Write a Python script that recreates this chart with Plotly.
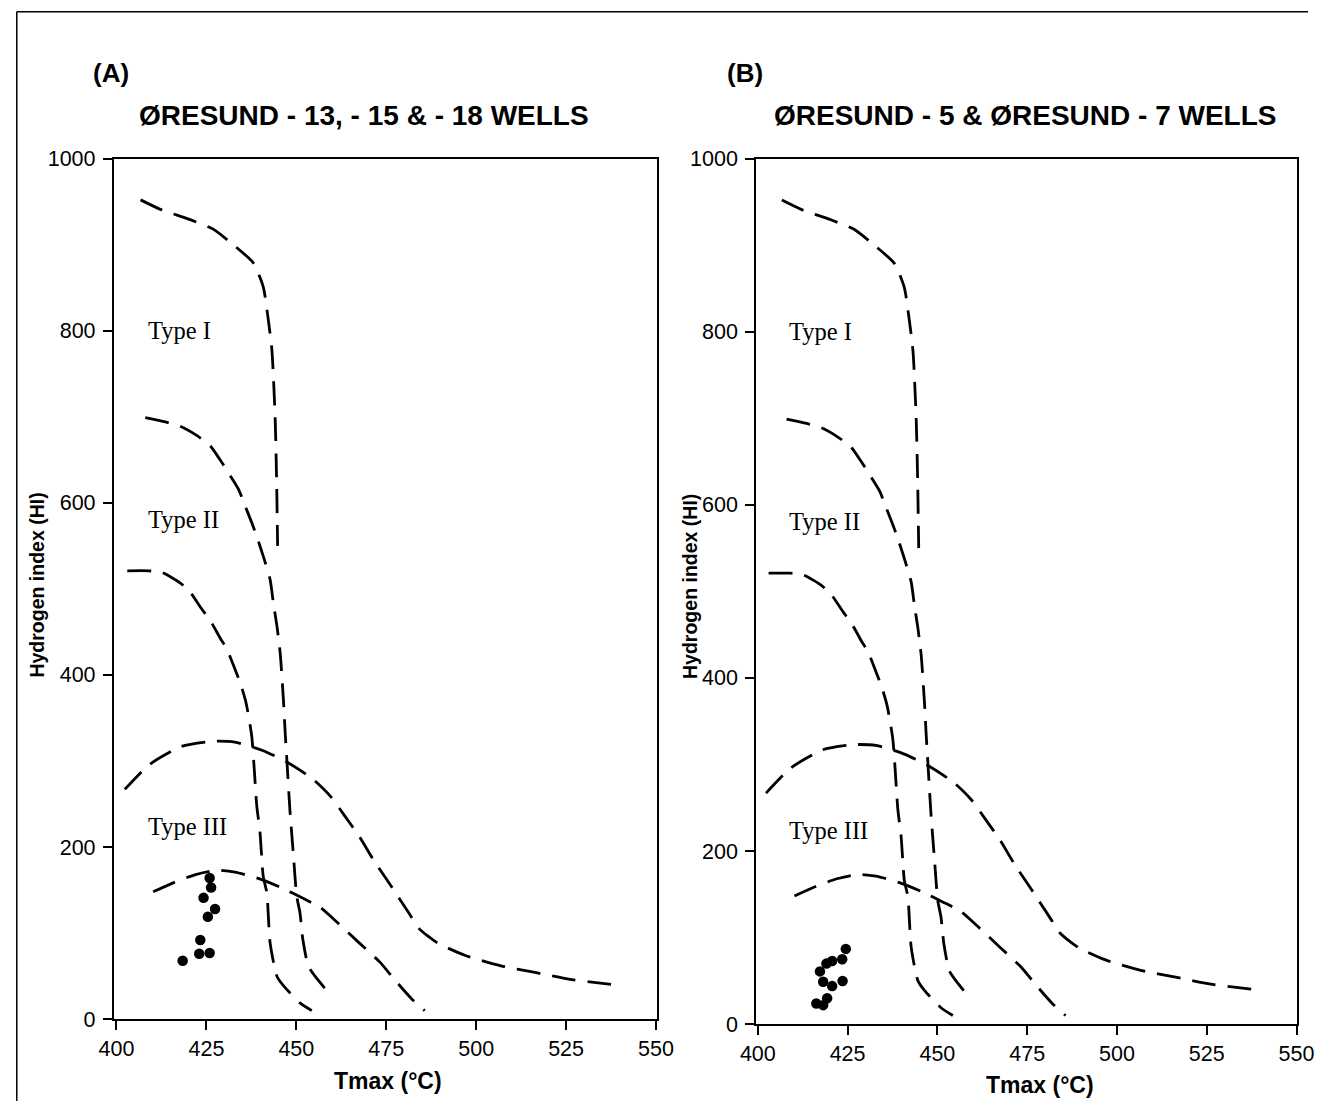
import plotly.graph_objects as go

# ---------------- data ----------------
tmax_ticks = [400, 425, 450, 475, 500, 525, 550]
hi_ticks = [0, 200, 400, 600, 800, 1000]

# Kerogen-type boundary curves (same template in both panels)
c1_t = [406.7, 412.2, 420.5, 426.9, 432.4, 438.0, 440.8, 442.1, 443.2, 444.1, 444.5, 444.8]
c1_hi = [952, 941, 929, 918, 900, 879, 851, 816, 778, 700, 630, 550]

c2_t = [408.0, 413.6, 417.7, 422.4, 426.1, 428.8, 431.1, 433.9, 435.8, 437.6, 439.0, 440.8,
        442.7, 443.6, 444.6, 445.5, 446.4, 446.9, 447.3, 448.2, 449.2, 450.1, 451.0, 451.8,
        453.3, 455.2, 459.3]
c2_hi = [699, 694, 689, 678, 666, 650, 635, 616, 596, 577, 561, 538,
         511, 484, 457, 426, 372, 333, 306, 244, 190, 143, 124, 93,
         62, 50, 29]

c3_t = [403.0, 409.0, 412.7, 417.7, 420.5, 423.8, 426.1, 428.8, 430.7, 433.0, 434.4, 436.0,
        437.6, 439.0, 439.9, 440.8, 441.8, 442.7, 444.6, 446.4, 451.0, 454.3]
c3_hi = [521, 521, 519, 507, 496, 476, 463, 443, 430, 406, 391, 368,
         329, 248, 217, 166, 147, 89, 50, 39, 19, 10]

c4_t = [402.3, 409.2, 418.1, 426.9, 432.9, 440.8, 447.7, 454.6, 459.5, 463.5, 467.4, 471.3,
        476.3, 481.2, 484.2, 489.1, 497.0, 506.9, 516.7, 526.6, 540.4]
c4_hi = [267, 296, 317, 323, 322, 312, 298, 279, 259, 236, 213, 186,
         155, 124, 105, 89, 74, 62, 54, 46, 39]

c5_t = [410.2, 416.1, 422.0, 427.9, 432.9, 439.8, 445.7, 451.6, 456.6, 461.5, 467.4, 473.3,
        477.3, 482.2, 485.7]
c5_hi = [148, 159, 168, 173, 171, 163, 153, 141, 130, 112, 89, 66,
         46, 23, 10]

curves_t = [c1_t, c2_t, c3_t, c4_t, c5_t]
curves_hi = [c1_hi, c2_hi, c3_hi, c4_hi, c5_hi]

# Samples
a_t = [425.9, 426.3, 424.2, 427.4, 425.4, 423.3, 423.0, 425.9, 418.4]
a_hi = [164, 153, 141, 128, 119, 92, 76, 77, 68]

b_t = [424.5, 423.5, 420.7, 419.1, 417.3, 418.2, 420.7, 423.6, 419.3, 416.3, 418.2]
b_hi = [87, 75, 73, 70, 61, 49, 44, 50, 30, 24, 22]

type_labels = ["Type I", "Type II", "Type III"]
type_label_t = [408.2, 408.2, 408.2]
type_label_hi = [800, 581, 224]

panel_letters = ["(A)", "(B)"]
panel_titles = ["ØRESUND - 13, - 15 & - 18 WELLS", "ØRESUND - 5 & ØRESUND - 7 WELLS"]
x_title = "Tmax (°C)"
y_title = "Hydrogen index (HI)"

# ---------------- figure ----------------
# body margin is removed by a post script, so the figure starts at the page corner
OFF = 0
W, H = 1325, 1114
# measured display transform of the capture (observed = C + S * page)
CX, SX = 15.3, 0.976
CY, SY = 11.2, 0.980


def xp(px):
    page = (px - CX) / SX
    return (page - OFF) / W


def yp(py):
    page = (py - CY) / SY
    return 1 - (page - OFF) / H


fig = go.Figure()

panels = [("x", "y", a_t, a_hi), ("x2", "y2", b_t, b_hi)]
for xa, ya, st, shi in panels:
    for ct, chi in zip(curves_t, curves_hi):
        fig.add_trace(go.Scatter(
            x=ct, y=chi, xaxis=xa, yaxis=ya, mode="lines",
            line=dict(color="black", width=2.8, dash="24px,12px", shape="spline", smoothing=0.6),
            hoverinfo="skip"))
    fig.add_trace(go.Scatter(
        x=st, y=shi, xaxis=xa, yaxis=ya, mode="markers",
        marker=dict(color="black", size=10.5, line=dict(width=0))))
    for lab, lt, lhi in zip(type_labels, type_label_t, type_label_hi):
        fig.add_annotation(x=lt, y=lhi, xref=xa, yref=ya, text=lab, showarrow=False,
                           xanchor="left", yanchor="middle",
                           font=dict(family="Liberation Serif", size=24.5, color="black"))

axis_common = dict(
    showline=True, mirror=True, linecolor="black", linewidth=1.5,
    ticks="outside", ticklen=9, tickwidth=1.5, tickcolor="black",
    showgrid=False, zeroline=False,
    tickfont=dict(family="Liberation Sans", size=21.5, color="black"),
)

fig.update_layout(
    width=W, height=H,
    margin=dict(l=0, r=0, t=0, b=0),
    paper_bgcolor="white", plot_bgcolor="white",
    showlegend=False,
    xaxis=dict(domain=[xp(113), xp(657)], range=[399.2, 550.3], tickvals=tmax_ticks,
               anchor="y", **axis_common),
    yaxis=dict(domain=[yp(1021), yp(159)], range=[0, 1000], tickvals=hi_ticks,
               anchor="x", ticklabelstandoff=3, **axis_common),
    xaxis2=dict(domain=[xp(756), xp(1297)], range=[399.5, 550], tickvals=tmax_ticks,
                anchor="y2", **axis_common),
    yaxis2=dict(domain=[yp(1026), yp(159)], range=[0, 1000], tickvals=hi_ticks,
                anchor="x2", ticklabelstandoff=3, **axis_common),
)

text_pos = [
    # letter, title, y-title, x-title positions in px
    ((110, 73), (364, 116), (36, 586), (388, 1083)),
    ((745, 73), (1025, 116), (690, 588), (1040, 1087)),
]
for i, (pl, pt, py_, px_) in enumerate(text_pos):
    fig.add_annotation(x=xp(pl[0]), y=yp(pl[1]), xref="paper", yref="paper",
                       text="<b>%s</b>" % panel_letters[i], showarrow=False,
                       xanchor="center", yanchor="middle",
                       font=dict(family="Liberation Sans", size=26, color="black"))
    fig.add_annotation(x=xp(pt[0]), y=yp(pt[1]), xref="paper", yref="paper",
                       text="<b>%s</b>" % panel_titles[i], showarrow=False,
                       xanchor="center", yanchor="middle",
                       font=dict(family="Liberation Sans", size=28, color="black"))
    fig.add_annotation(x=xp(py_[0]), y=yp(py_[1]), xref="paper", yref="paper",
                       text="<b>%s</b>" % y_title, showarrow=False, textangle=-90,
                       xanchor="center", yanchor="middle",
                       font=dict(family="Liberation Sans", size=19.5, color="black"))
    fig.add_annotation(x=xp(px_[0]), y=yp(px_[1]), xref="paper", yref="paper",
                       text="<b>%s</b>" % x_title, showarrow=False,
                       xanchor="center", yanchor="middle",
                       font=dict(family="Liberation Sans", size=23, color="black"))

# outer frame (top and left edges), as close to the page corner as possible
fig.add_shape(type="line", xref="paper", yref="paper", x0=0.0006, x1=1.0, y0=0.9993, y1=0.9993,
              line=dict(color="black", width=1.5))
fig.add_shape(type="line", xref="paper", yref="paper", x0=0.0006, x1=0.0006, y0=0, y1=0.9993,
              line=dict(color="black", width=1.5))

fig.write_html("out.html",
               config={"displayModeBar": False},
               post_script="document.body.style.margin='0';document.body.style.overflow='hidden';")
